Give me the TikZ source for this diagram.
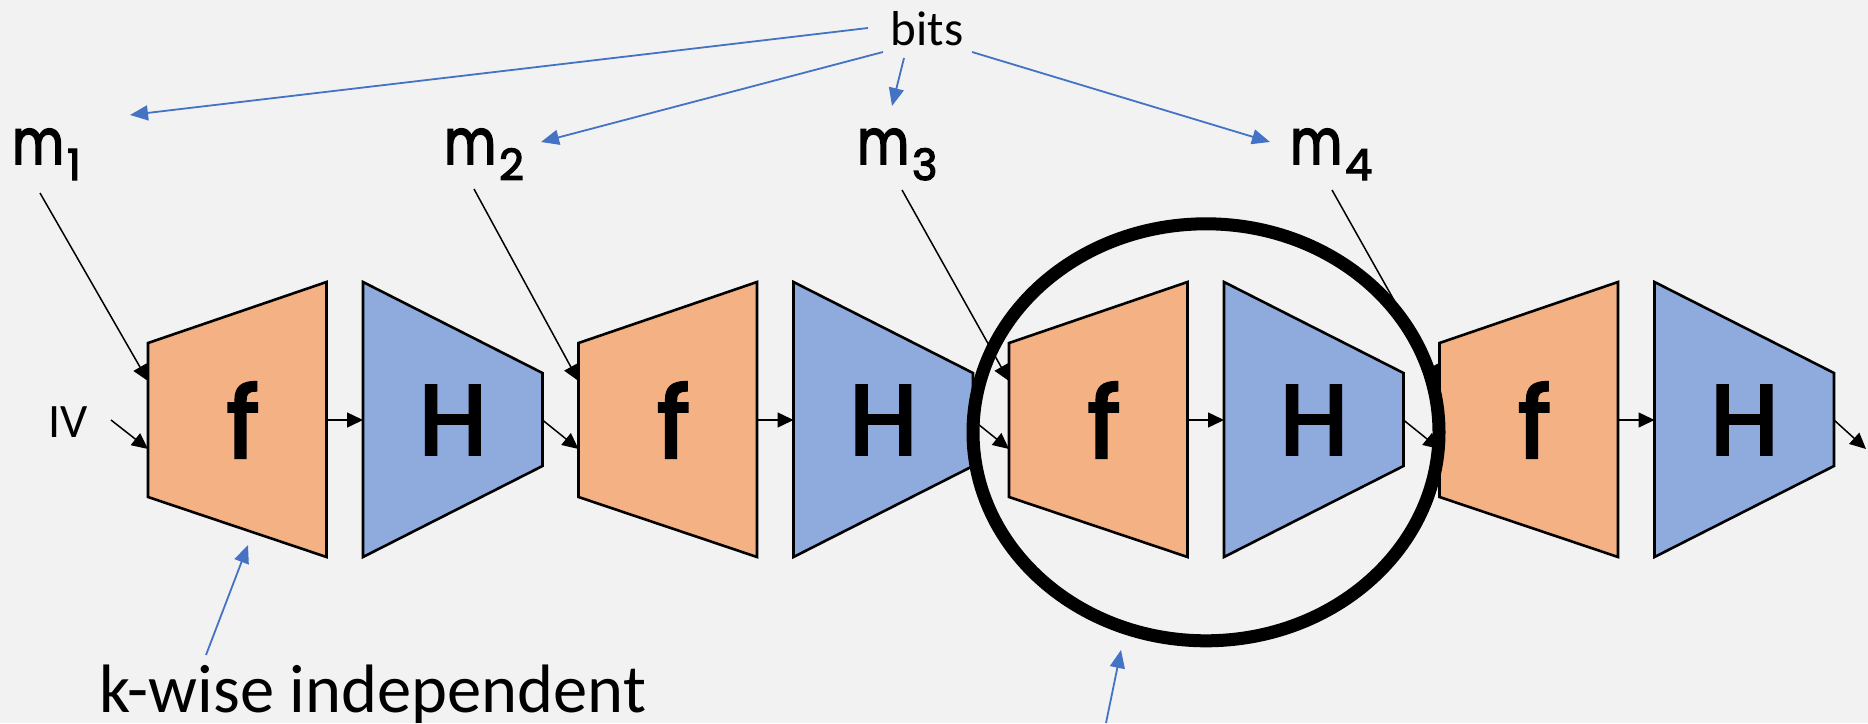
\documentclass[tikz,border=0pt]{standalone}
\usepackage{fontspec}
\setmainfont{Carlito}
\newfontfamily\glyphfont[FakeBold=3.5]{Poppins}
\newfontfamily\msgfont[FakeBold=3]{Poppins}
\usetikzlibrary{arrows.meta,shapes.geometric}
\definecolor{pagebg}{HTML}{F2F2F2}
\definecolor{fillorange}{HTML}{F4B183}
\definecolor{fillblue}{HTML}{8FAADC}
\definecolor{linkblue}{HTML}{4472C4}
% message block symbol m_i (narrowed m, lowered index)
\newcommand\msym[1]{{\msgfont\fontsize{63}{63}\selectfont \scalebox{0.8}[1]{m}\kern3pt\raisebox{-16pt}{\fontsize{43}{43}\selectfont #1}}}

\begin{document}
\begin{tikzpicture}[x=1pt,y=-1pt,
  stage/.style={draw=black,line width=2.6pt,line join=miter},
  fstage/.style={stage,fill=fillorange},
  hstage/.style={stage,fill=fillblue},
  glyph/.style={font=\glyphfont\fontsize{98}{98}\selectfont,inner sep=0pt},
  wire/.style={line width=1.5pt,-{Triangle[length=16pt,width=15pt]}},
  bitlink/.style={linkblue,line width=1.8pt,-{Triangle[length=18pt,width=15pt]}},
  msg/.style={anchor=base west,inner sep=0pt}
]
\path[use as bounding box,fill=pagebg] (0,0) rectangle (1868,723);

% compression stages f and H
\foreach \k/\n in {0/1,1/2,2/3,3/4}{
  \pgfmathsetmacro\L{148+430.5*\k}
  \draw[fstage] (\L,343) -- (\L+178.5,282) -- (\L+178.5,557) -- (\L,497) -- cycle;
  \draw[hstage] (\L+215,282) -- (\L+394.5,373) -- (\L+394.5,466) -- (\L+215,557) -- cycle;
  \node[glyph] (f\n) at (\L+95,420) {f};
  \node[glyph] (h\n) at (\L+305,420) {H};
  \coordinate (f\n-min) at (\L,381);
  \coordinate (f\n-in) at (\L,449);
  \coordinate (f\n-out) at (\L+178.5,420);
  \coordinate (h\n-in) at (\L+215,420);
  \coordinate (h\n-out) at (\L+394.5,420);
}

% message blocks
\node[msg] (m1) at (12,164) {\msym{1}};
\node[msg] (m2) at (444,164) {\msym{2}};
\node[msg] (m3) at (857,164) {\msym{3}};
\node[msg] (m4) at (1290,164) {\msym{4}};
\coordinate (m1-src) at (40,193);
\coordinate (m2-src) at (474,189);
\coordinate (m3-src) at (902,190);
\coordinate (m4-src) at (1332,190);

\node[anchor=base west,inner sep=0pt,font=\fontsize{48}{48}\selectfont] (iv) at (48,437) {IV};
\coordinate (iv-src) at (111,420);

% chaining wires
\draw[wire] (iv-src) -- (f1-in);
\foreach \n in {1,2,3,4}{
  \draw[wire] (m\n-src) -- (f\n-min);
  \draw[wire] (f\n-out) -- (h\n-in);
}
\draw[wire] (h1-out) -- (f2-in);
\draw[wire] (h2-out) -- (f3-in);
\draw[wire] (h3-out) -- (f4-in);
\coordinate (tail) at (1866,449);
\draw[wire] (h4-out) -- (tail);

% highlighted round
\node[draw,ellipse,line width=13pt,minimum width=466pt,minimum height=417pt,inner sep=0pt] (focus) at (1206,432.3) {};

% annotations
\node[anchor=base,inner sep=0pt,font=\fontsize{49}{49}\selectfont] (bits) at (927,45) {bits};
\coordinate (b1) at (868,28);
\coordinate (b2) at (883,52);
\coordinate (b3) at (904,58);
\coordinate (b4) at (972,52);
\coordinate (t1) at (130,115);
\coordinate (t2) at (541,142);
\coordinate (t3) at (892,106);
\coordinate (t4) at (1270,142);
\foreach \n in {1,2,3,4}{\draw[bitlink] (b\n) -- (t\n);}

\node[anchor=base west,inner sep=0pt,font=\fontsize{68.5}{68.5}\selectfont] (kwise) at (99,712) {k-wise independent};
\coordinate (kw-src) at (206,655);
\coordinate (kw-tip) at (248,545);
\draw[bitlink] (kw-src) -- (kw-tip);

\coordinate (fc-src) at (1106,723);
\coordinate (fc-tip) at (1121,650);
\draw[bitlink] (fc-src) -- (fc-tip);
\end{tikzpicture}
\end{document}
